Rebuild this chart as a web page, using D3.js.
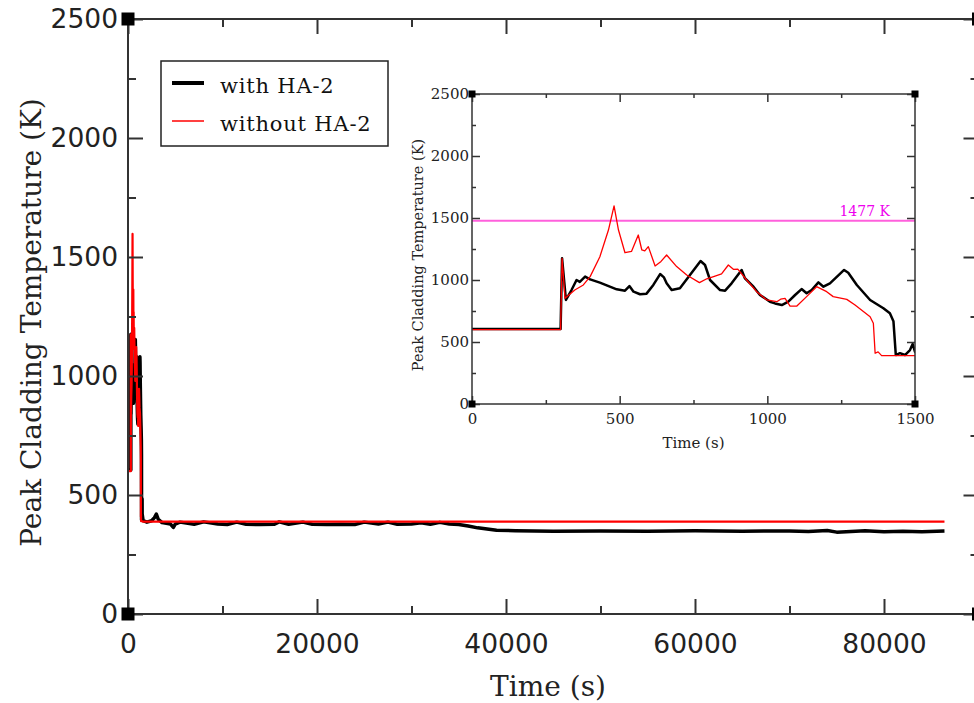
<!DOCTYPE html>
<html>
<head>
<meta charset="utf-8">
<script src="https://cdn.jsdelivr.net/npm/d3@7/dist/d3.min.js"></script>
<style>
  html, body { margin: 0; padding: 0; background: #fff; }
  svg { display: block; }
</style>
</head>
<body>
<svg id="chart" width="974" height="703"></svg>
<script>
// Peak cladding temperature, with and without HA-2 (time in s, temperature in K)
const withTime = [0, 300, 305, 318, 337, 354, 365, 383, 400, 433, 490, 518, 533, 547, 569, 591,
  614, 637, 650, 659, 676, 704, 738, 774, 789, 806, 840, 857, 879, 913, 924, 953, 975, 1009,
  1026, 1049, 1071, 1094, 1116, 1133, 1150, 1173, 1190, 1212, 1260, 1274, 1303, 1348, 1393,
  1415, 1427, 1435, 1449, 1466, 1483, 1492, 1500, 1600, 2000, 2500, 2800, 3000, 3200, 3600,
  4500, 4800, 5000, 5500, 7000, 8000, 9500, 10500, 11500, 12500, 14000, 15500, 16000, 17000,
  18500, 19500, 21000, 22500, 24000, 25000, 26500, 27500, 28500, 30000, 31000, 32000, 33000,
  34000, 35000, 36000, 37000, 38000, 39000, 41000, 45000, 50000, 55000, 60000, 65000, 70000,
  72000, 74000, 75000, 78000, 80000, 82000, 84000, 86400];
const withTemp = [605, 605, 1175, 839, 919, 1000, 985, 1027, 1005, 979, 925, 914, 951, 906, 885,
  890, 960, 1048, 1021, 973, 919, 933, 1040, 1153, 1121, 1000, 919, 914, 973, 1081, 1014, 946,
  879, 825, 811, 798, 825, 879, 927, 893, 919, 981, 946, 973, 1081, 1059, 960, 839, 772, 731,
  668, 395, 410, 395, 435, 484, 420, 392, 386, 392, 405, 420, 398, 384, 378, 364, 378, 386,
  377, 387, 378, 376, 386, 377, 376, 377, 387, 377, 386, 377, 376, 377, 376, 386, 378, 386,
  377, 378, 383, 377, 385, 378, 376, 370, 362, 357, 352, 350, 348, 349, 348, 350, 348, 349, 347,
  351, 344, 350, 346, 348, 346, 349, 346];

const withoutTime = [0, 300, 305, 315, 348, 377, 400, 433, 462, 481, 496, 518, 540, 563, 575,
  585, 597, 620, 640, 659, 693, 727, 770, 795, 823, 845, 868, 885, 900, 930, 964, 998, 1032,
  1045, 1060, 1077, 1100, 1133, 1167, 1201, 1223, 1269, 1297, 1348, 1359, 1365, 1375, 1387,
  1500, 1600, 86400];
const withoutTemp = [600, 600, 1175, 852, 919, 960, 1027, 1188, 1403, 1597, 1403, 1220, 1230,
  1363, 1242, 1235, 1269, 1113, 1150, 1202, 1108, 1040, 979, 1010, 1032, 1050, 1121, 1086,
  1088, 1000, 906, 839, 825, 845, 852, 790, 790, 866, 946, 906, 866, 844, 798, 704, 651, 409,
  420, 390, 390, 388, 388];

const xMajor = [0, 20000, 40000, 60000, 80000];
const xMinor = [10000, 30000, 50000, 70000, 90000];
const yMajor = [0, 500, 1000, 1500, 2000, 2500];
const yMinor = [250, 750, 1250, 1750, 2250];

const insetXMajor = [0, 500, 1000, 1500];
const insetXMinor = [250, 750, 1250];
const limitTemp = 1477;

const seriesNames = ["with HA-2", "without HA-2"];

const withData = withTime.map((t, i) => ({ t, v: withTemp[i] }));
const withoutData = withoutTime.map((t, i) => ({ t, v: withoutTemp[i] }));

const svg = d3.select("#chart");
const axisColor = "#333";
const sansFont = "DejaVu Sans, sans-serif";
const serifFont = "DejaVu Serif, serif";

// ---------------------------------------------------------------------------
// Main plot
// ---------------------------------------------------------------------------
const x = d3.scaleLinear().domain([0, 90000]).range([128, 978.5]);
const y = d3.scaleLinear().domain([0, 2500]).range([614, 19]);

const line = d3.line().x((d) => x(d.t)).y((d) => y(d.v));

svg.append("path")
  .datum(withData)
  .attr("fill", "none")
  .attr("stroke", "#000")
  .attr("stroke-width", 3.5)
  .attr("stroke-linejoin", "round")
  .attr("d", line);

svg.append("path")
  .datum(withoutData)
  .attr("fill", "none")
  .attr("stroke", "#ff0000")
  .attr("stroke-width", 2.2)
  .attr("stroke-linejoin", "round")
  .attr("d", line);

function styleAxis(g, fontSize, family) {
  g.select(".domain").remove();
  g.selectAll(".tick line").attr("stroke", axisColor).attr("stroke-width", 2);
  g.selectAll(".tick text")
    .attr("fill", "#222")
    .style("font-family", family)
    .style("font-size", fontSize + "px");
}

// ticks point inward on all four sides
svg.append("g").attr("transform", `translate(0,${y(0)})`)
  .call(d3.axisBottom(x).tickValues(xMajor).tickSize(-15).tickPadding(20).tickFormat(d3.format("d")))
  .call((g) => styleAxis(g, 26.5, sansFont));
svg.append("g").attr("transform", `translate(0,${y(0)})`)
  .call(d3.axisBottom(x).tickValues(xMinor).tickSize(-8).tickFormat(""))
  .call((g) => styleAxis(g, 26.5, sansFont));
svg.append("g").attr("transform", `translate(0,${y(2500)})`)
  .call(d3.axisTop(x).tickValues(xMajor).tickSize(-15).tickFormat(""))
  .call((g) => styleAxis(g, 26.5, sansFont));
svg.append("g").attr("transform", `translate(0,${y(2500)})`)
  .call(d3.axisTop(x).tickValues(xMinor).tickSize(-8).tickFormat(""))
  .call((g) => styleAxis(g, 26.5, sansFont));

svg.append("g").attr("transform", `translate(${x(0)},0)`)
  .call(d3.axisLeft(y).tickValues(yMajor).tickSize(-15).tickPadding(10).tickFormat(d3.format("d")))
  .call((g) => styleAxis(g, 26.5, sansFont));
svg.append("g").attr("transform", `translate(${x(0)},0)`)
  .call(d3.axisLeft(y).tickValues(yMinor).tickSize(-8).tickFormat(""))
  .call((g) => styleAxis(g, 26.5, sansFont));
svg.append("g").attr("transform", `translate(${x(90000)},0)`)
  .call(d3.axisRight(y).tickValues(yMajor).tickSize(-15).tickFormat(""))
  .call((g) => styleAxis(g, 26.5, sansFont));
svg.append("g").attr("transform", `translate(${x(90000)},0)`)
  .call(d3.axisRight(y).tickValues(yMinor).tickSize(-8).tickFormat(""))
  .call((g) => styleAxis(g, 26.5, sansFont));

svg.append("rect")
  .attr("x", x(0)).attr("y", y(2500))
  .attr("width", x(90000) - x(0)).attr("height", y(0) - y(2500))
  .attr("fill", "none").attr("stroke", axisColor).attr("stroke-width", 2);

[[0, 0], [0, 2500], [90000, 0], [90000, 2500]].forEach(([cx, cy]) => {
  svg.append("rect")
    .attr("x", x(cx) - 6.5).attr("y", y(cy) - 6.5)
    .attr("width", 13).attr("height", 13)
    .attr("fill", "#000");
});

svg.append("text")
  .attr("x", 548).attr("y", 696)
  .attr("text-anchor", "middle")
  .attr("fill", "#222")
  .style("font-family", serifFont).style("font-size", "28px")
  .text("Time (s)");

svg.append("text")
  .attr("transform", `translate(41,${(y(0) + y(2500)) / 2 + 6}) rotate(-90)`)
  .attr("text-anchor", "middle")
  .attr("fill", "#222")
  .style("font-family", serifFont).style("font-size", "28px")
  .text("Peak Cladding Temperature (K)");

// Legend
const legend = svg.append("g");
legend.append("rect")
  .attr("x", 161).attr("y", 61).attr("width", 227).attr("height", 85)
  .attr("fill", "#fff").attr("stroke", "#222").attr("stroke-width", 1.5);
const legendStyles = [{ color: "#000", width: 4 }, { color: "#ff0000", width: 1.5 }];
seriesNames.forEach((name, i) => {
  const ly = 83 + i * 38;
  legend.append("line")
    .attr("x1", 172).attr("x2", 204).attr("y1", ly).attr("y2", ly)
    .attr("stroke", legendStyles[i].color).attr("stroke-width", legendStyles[i].width);
  legend.append("text")
    .attr("x", 220).attr("y", ly + 10)
    .attr("fill", "#111")
    .style("font-family", serifFont).style("font-size", "21px")
    .style("letter-spacing", "0.8px")
    .text(name);
});

// ---------------------------------------------------------------------------
// Inset: first 1500 s
// ---------------------------------------------------------------------------
const ix = d3.scaleLinear().domain([0, 1500]).range([472, 915]);
const iy = d3.scaleLinear().domain([0, 2500]).range([404, 94]);
const inset = svg.append("g");

inset.append("rect")
  .attr("x", ix(0)).attr("y", iy(2500))
  .attr("width", ix(1500) - ix(0)).attr("height", iy(0) - iy(2500))
  .attr("fill", "#fff");

svg.append("defs").append("clipPath").attr("id", "inset-clip")
  .append("rect")
  .attr("x", ix(0)).attr("y", iy(2500))
  .attr("width", ix(1500) - ix(0)).attr("height", iy(0) - iy(2500));

const insetLine = d3.line().x((d) => ix(d.t)).y((d) => iy(d.v));
const plotArea = inset.append("g").attr("clip-path", "url(#inset-clip)");

plotArea.append("line")
  .attr("x1", ix(0)).attr("x2", ix(1500))
  .attr("y1", iy(limitTemp)).attr("y2", iy(limitTemp))
  .attr("stroke", "#ff60dc").attr("stroke-width", 2);

plotArea.append("path")
  .datum(withData)
  .attr("fill", "none").attr("stroke", "#000").attr("stroke-width", 2.5)
  .attr("stroke-linejoin", "round")
  .attr("d", insetLine);
plotArea.append("path")
  .datum(withoutData)
  .attr("fill", "none").attr("stroke", "#ff0000").attr("stroke-width", 1.3)
  .attr("stroke-linejoin", "round")
  .attr("d", insetLine);

inset.append("text")
  .attr("x", 890).attr("y", iy(limitTemp) - 5)
  .attr("text-anchor", "end")
  .attr("fill", "#ee00ee")
  .style("font-family", serifFont).style("font-size", "14px")
  .text(limitTemp + " K");

function styleInsetAxis(g) {
  g.select(".domain").remove();
  g.selectAll(".tick line").attr("stroke", axisColor).attr("stroke-width", 1.5);
  g.selectAll(".tick text")
    .attr("fill", "#222")
    .style("font-family", serifFont)
    .style("font-size", "15px");
}

inset.append("g").attr("transform", `translate(0,${iy(0)})`)
  .call(d3.axisBottom(ix).tickValues(insetXMajor).tickSize(-8).tickPadding(9).tickFormat(d3.format("d")))
  .call(styleInsetAxis);
inset.append("g").attr("transform", `translate(0,${iy(0)})`)
  .call(d3.axisBottom(ix).tickValues(insetXMinor).tickSize(-4).tickFormat(""))
  .call(styleInsetAxis);
inset.append("g").attr("transform", `translate(0,${iy(2500)})`)
  .call(d3.axisTop(ix).tickValues(insetXMajor).tickSize(-8).tickFormat(""))
  .call(styleInsetAxis);
inset.append("g").attr("transform", `translate(0,${iy(2500)})`)
  .call(d3.axisTop(ix).tickValues(insetXMinor).tickSize(-4).tickFormat(""))
  .call(styleInsetAxis);
inset.append("g").attr("transform", `translate(${ix(0)},0)`)
  .call(d3.axisLeft(iy).tickValues(yMajor).tickSize(-8).tickPadding(3).tickFormat(d3.format("d")))
  .call(styleInsetAxis);
inset.append("g").attr("transform", `translate(${ix(0)},0)`)
  .call(d3.axisLeft(iy).tickValues(yMinor).tickSize(-4).tickFormat(""))
  .call(styleInsetAxis);
inset.append("g").attr("transform", `translate(${ix(1500)},0)`)
  .call(d3.axisRight(iy).tickValues(yMajor).tickSize(-8).tickFormat(""))
  .call(styleInsetAxis);
inset.append("g").attr("transform", `translate(${ix(1500)},0)`)
  .call(d3.axisRight(iy).tickValues(yMinor).tickSize(-4).tickFormat(""))
  .call(styleInsetAxis);

inset.append("rect")
  .attr("x", ix(0)).attr("y", iy(2500))
  .attr("width", ix(1500) - ix(0)).attr("height", iy(0) - iy(2500))
  .attr("fill", "none").attr("stroke", axisColor).attr("stroke-width", 1.5);

[[0, 0], [0, 2500], [1500, 0], [1500, 2500]].forEach(([cx, cy]) => {
  inset.append("rect")
    .attr("x", ix(cx) - 3.5).attr("y", iy(cy) - 3.5)
    .attr("width", 7).attr("height", 7)
    .attr("fill", "#000");
});

inset.append("text")
  .attr("x", (ix(0) + ix(1500)) / 2).attr("y", 448)
  .attr("text-anchor", "middle")
  .attr("fill", "#222")
  .style("font-family", serifFont).style("font-size", "15px")
  .text("Time (s)");

inset.append("text")
  .attr("transform", `translate(423,${(iy(0) + iy(2500)) / 2 + 6}) rotate(-90)`)
  .attr("text-anchor", "middle")
  .attr("fill", "#222")
  .style("font-family", serifFont).style("font-size", "14.5px")
  .text("Peak Cladding Temperature (K)");
</script>
</body>
</html>
